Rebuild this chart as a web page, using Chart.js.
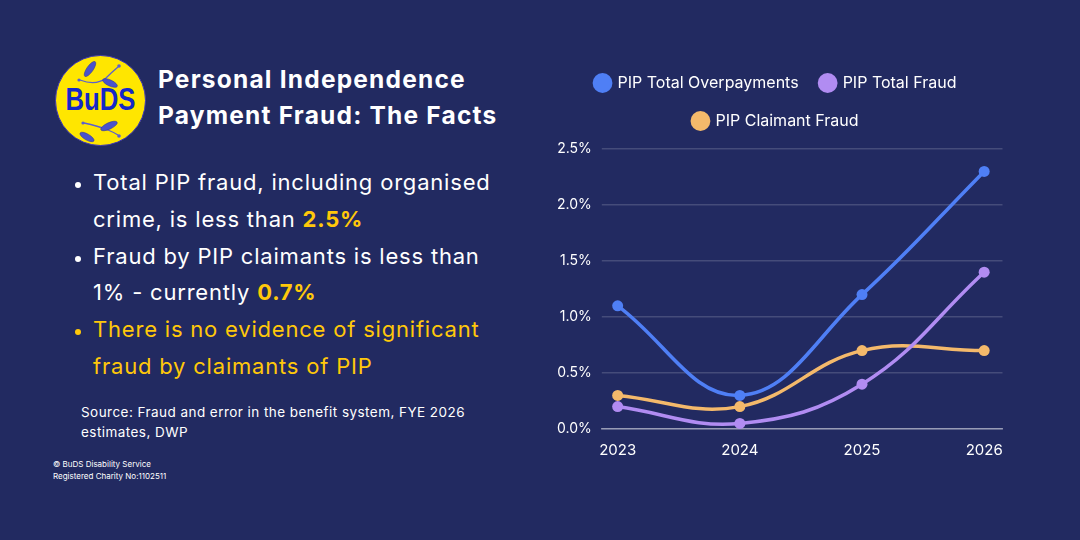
<!DOCTYPE html>
<html>
<head>
<meta charset="utf-8">
<script src="https://cdn.jsdelivr.net/npm/chart.js@4"></script>
<style>
  html, body { margin: 0; padding: 0; }
  body {
    width: 1080px; height: 540px; overflow: hidden;
    background: #222a61; color: #fff;
    font-family: "Inter", "Open Sans", sans-serif;
    position: relative;
  }
  .logo {
    position: absolute; left: 55px; top: 55px; width: 89px; height: 89px;
    border-radius: 50%; background: #ffe600; border: 1.5px solid #3a34b8;
  }
  .logo span {
    position: absolute; left: 0; right: 0; top: 27px; text-align: center;
    font-family: "Liberation Sans", Arial, sans-serif; font-weight: bold;
    font-size: 31px; line-height: 34px; color: #1428c8;
    transform: scaleX(0.83);
  }
  .logo svg { position: absolute; left: 0; top: 0; }
  h1 {
    position: absolute; left: 158px; top: 61px; margin: 0;
    font-size: 24.5px; line-height: 36px; font-weight: 700; letter-spacing: 1.2px;
  }
  ul {
    position: absolute; left: 67px; top: 164px; margin: 0; padding: 0 0 0 26px;
    font-size: 22px; line-height: 36.8px; width: 412px; letter-spacing: 0.8px;
  }
  li::marker { font-size: 18px; }
  .y { color: #ffc80a; font-weight: 700; }
  .yl { color: #ffc80a; }
  .src {
    position: absolute; left: 81px; top: 402px; font-size: 13.5px; line-height: 20px;
    width: 400px; letter-spacing: 0.45px;
  }
  .foot {
    position: absolute; left: 53px; top: 458px; font-size: 8px; line-height: 12px;
  }
  #wrap { position: absolute; left: 547px; top: 53px; width: 461px; height: 404px; }
</style>
</head>
<body>
<div class="logo">
  <svg width="89" height="89" viewBox="0 0 89 89">
    <g fill="none" stroke="#5a5fd0" stroke-width="1.3">
      <path d="M24 24 Q40 30 50 22 Q56 16 62 11"/>
      <path d="M28 67 Q42 70 52 74 Q57 76 62 79"/>
    </g>
    <g fill="#4a52cc" stroke="#2a2f9a" stroke-width="0.5">
      <ellipse cx="34" cy="13" rx="9" ry="3.2" transform="rotate(-55 34 13)"/>
      <ellipse cx="54" cy="27" rx="8" ry="3" transform="rotate(25 54 27)"/>
      <ellipse cx="31" cy="81" rx="8" ry="3" transform="rotate(30 31 81)"/>
      <ellipse cx="53" cy="70" rx="9" ry="3.2" transform="rotate(-25 53 70)"/>
    </g>
    <g fill="#5a5fd0">
      <circle cx="63" cy="10" r="1.8"/>
      <circle cx="23" cy="24" r="1.6"/>
      <circle cx="27" cy="67" r="1.6"/>
      <circle cx="63" cy="80" r="1.8"/>
    </g>
  </svg>
  <span>BuDS</span>
</div>
<h1>Personal Independence<br>Payment Fraud: The Facts</h1>
<ul>
  <li>Total PIP fraud, including organised crime, is less than <span class="y">2.5%</span></li>
  <li>Fraud by PIP claimants is less than 1% - currently <span class="y">0.7%</span></li>
  <li class="yl">There is no evidence of significant fraud by claimants of PIP</li>
</ul>
<div class="src">Source: Fraud and error in the benefit system, FYE 2026 estimates, DWP</div>
<div class="foot">© BuDS Disability Service<br>Registered Charity No:1102511</div>
<div id="wrap"><canvas id="myChart"></canvas></div>

<script>
// chart data
const years = [2023, 2024, 2025, 2026];
const totalOverpayments = [1.1, 0.3, 1.2, 2.3];
const totalFraud = [0.2, 0.05, 0.4, 1.4];
const claimantFraud = [0.3, 0.2, 0.7, 0.7];
const yTicks = [0, 0.5, 1, 1.5, 2, 2.5];

const fontFamily = '"Inter", "Open Sans", sans-serif';

function toPoints(values) {
    return years.map((yr, i) => ({ x: yr, y: values[i] }));
}

function makeSet(label, values, color) {
    return {
        label: label,
        data: toPoints(values),
        borderColor: color,
        backgroundColor: color,
        pointBackgroundColor: color,
        pointBorderWidth: 0,
        pointRadius: 5.5,
        borderWidth: 3.5,
        tension: 0.4,
    };
}

//extra gap under the legend
const legendGap = {
    id: 'legendGap',
    beforeInit(chart) {
        const fit = chart.legend.fit;
        chart.legend.fit = function () {
            fit.call(this);
            this.height += 10;
        };
    },
};

new Chart(document.getElementById('myChart'), {
    type: 'line',
    data: {
        datasets: [
            makeSet('PIP Total Overpayments', totalOverpayments, '#4f7ff5'),
            makeSet('PIP Total Fraud', totalFraud, '#b18cf2'),
            makeSet('PIP Claimant Fraud', claimantFraud, '#f4b96b'),
        ]
    },
    plugins: [legendGap],
    options: {
        responsive: true,
        maintainAspectRatio: false,
        animation: false,
        layout: { padding: { right: 3, bottom: -6 } },
        plugins: {
            legend: {
                position: 'top',
                labels: {
                    color: '#ffffff',
                    usePointStyle: true,
                    pointStyle: 'circle',
                    boxWidth: 14,
                    boxHeight: 14,
                    padding: 22,
                    font: { family: fontFamily, size: 16 },
                },
            },
            tooltip: { enabled: false },
        },
        scales: {
            x: {
                type: 'linear',
                min: 2022.87,
                max: 2026.15,
                afterBuildTicks: axis => { axis.ticks = years.map(v => ({ value: v })); },
                ticks: {
                    color: '#ffffff',
                    font: { family: fontFamily, size: 15 },
                    callback: v => String(v),
                    padding: 4,
                },
                grid: { display: false },
                border: { display: true, color: 'rgba(255,255,255,0.45)', width: 1.5 },
            },
            y: {
                min: 0,
                max: 2.5,
                afterBuildTicks: axis => { axis.ticks = yTicks.map(v => ({ value: v })); },
                ticks: {
                    color: '#ffffff',
                    font: { family: fontFamily, size: 14 },
                    callback: v => v.toFixed(1) + '%',
                    padding: 10,
                },
                grid: { color: 'rgba(255,255,255,0.16)', lineWidth: 1.5, tickLength: 0 },
                border: { display: false },
            },
        },
    },
});
</script>
</body>
</html>
